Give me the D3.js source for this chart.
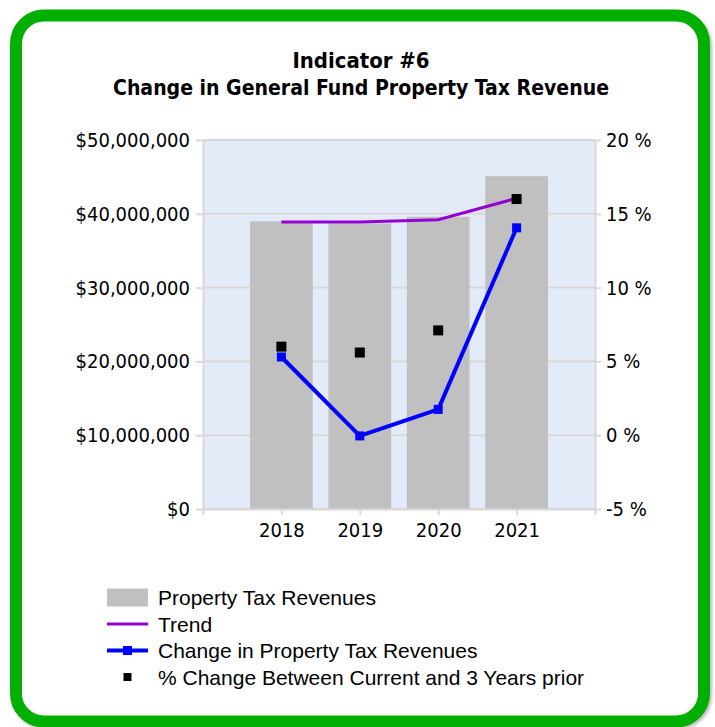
<!DOCTYPE html>
<html>
<head>
<meta charset="utf-8">
<script src="https://cdn.jsdelivr.net/npm/d3@7"></script>
<style>
  html, body { margin: 0; padding: 0; background: #fff; }
  svg { display: block; }
</style>
</head>
<body>
<div class="canvas"></div>
<script>
// Data
const years = ['2018', '2019', '2020', '2021']
const revenues = [38980000, 38700000, 39600000, 45100000]
const trend = [14.45, 14.45, 14.6, 16.05]
const change = [5.3, -0.05, 1.75, 14.05]
const threeYear = [6.0, 5.6, 7.1, 16.0]

const leftTicks = [0, 10000000, 20000000, 30000000, 40000000, 50000000]
const rightTicks = [-5, 0, 5, 10, 15, 20]

const titleLines = ['Indicator #6', 'Change in General Fund Property Tax Revenue']
const legendLabels = ['Property Tax Revenues', 'Trend', 'Change in Property Tax Revenues', '% Change Between Current and 3 Years prior']

// Colours
const green = '#00b000'
const plotBg = '#e4ebf8'
const gridColor = '#d8d8d8'
const barColor = '#c0c0c0'
const purple = '#9400d3'
const blue = '#0000ff'

const tickFont = 'DejaVu Sans Condensed, DejaVu Sans, sans-serif'

const width = 715
const height = 727

const svg = d3.select('.canvas')
  .append('svg')
    .attr('width', width)
    .attr('height', height)

// Soft shadow + green rounded frame
const defs = svg.append('defs')
const shadow = defs.append('filter').attr('id', 'shadow')
  .attr('x', '-5%').attr('y', '-5%').attr('width', '110%').attr('height', '110%')
shadow.append('feGaussianBlur').attr('stdDeviation', 1.5)

svg.append('rect')
  .attr('x', 18).attr('y', 17.5)
  .attr('width', 688).attr('height', 706)
  .attr('rx', 28)
  .attr('fill', 'none')
  .attr('stroke', '#bbb')
  .attr('stroke-width', 12)
  .attr('filter', 'url(#shadow)')

svg.append('rect')
  .attr('x', 16).attr('y', 15.5)
  .attr('width', 688).attr('height', 706)
  .attr('rx', 28)
  .attr('fill', '#fff')
  .attr('stroke', green)
  .attr('stroke-width', 12)

// Title
svg.selectAll('.title')
  .data(titleLines)
  .enter()
  .append('text')
    .attr('class', 'title')
    .attr('x', 361)
    .attr('y', (d, i) => 68 + i * 27)
    .attr('text-anchor', 'middle')
    .attr('font-family', tickFont)
    .attr('font-weight', 'bold')
    .attr('font-size', 21)
    .attr('textLength', (d, i) => i === 0 ? 137 : 496)
    .attr('lengthAdjust', 'spacingAndGlyphs')
    .attr('fill', '#000')
    .text(d => d)

// Plot area
const plot = {left: 203, right: 595, top: 140, bottom: 509}

const x = d3.scalePoint()
  .domain(years)
  .range([plot.left, plot.right])
  .padding(1)

const barWidth = x.step() * 0.8

const yLeft = d3.scaleLinear()
  .domain([0, 50000000])
  .range([plot.bottom, plot.top])

const yRight = d3.scaleLinear()
  .domain([-5, 20])
  .range([plot.bottom, plot.top])

svg.append('rect')
  .attr('x', plot.left)
  .attr('y', plot.top)
  .attr('width', plot.right - plot.left)
  .attr('height', plot.bottom - plot.top)
  .attr('fill', plotBg)

// Grid lines
svg.append('g')
  .selectAll('line')
  .data(leftTicks)
  .enter()
  .append('line')
    .attr('x1', plot.left)
    .attr('x2', plot.right)
    .attr('y1', d => yLeft(d))
    .attr('y2', d => yLeft(d))
    .attr('stroke', gridColor)
    .attr('stroke-width', 2)

// Bars
svg.append('g')
  .selectAll('rect')
  .data(revenues)
  .enter()
  .append('rect')
    .attr('x', (d, i) => x(years[i]) - barWidth / 2)
    .attr('y', d => yLeft(d))
    .attr('width', barWidth)
    .attr('height', d => plot.bottom - yLeft(d))
    .attr('fill', barColor)

// Axes
const styleAxis = g => {
  g.selectAll('.domain').attr('stroke', gridColor).attr('stroke-width', 2)
  g.selectAll('.tick line').attr('stroke', gridColor).attr('stroke-width', 2)
  g.selectAll('.tick text')
    .attr('font-family', tickFont)
    .attr('font-size', 20)
    .attr('fill', '#000')
}

const leftAxis = d3.axisLeft(yLeft)
  .tickValues(leftTicks)
  .tickSize(7)
  .tickSizeOuter(0)
  .tickPadding(6)
  .tickFormat(d => '$' + d3.format(',')(d))

const rightAxis = d3.axisRight(yRight)
  .tickValues(rightTicks)
  .tickSize(6)
  .tickSizeOuter(0)
  .tickPadding(5)
  .tickFormat(d => d + ' %')

const bottomAxis = d3.axisBottom(x)
  .tickSize(6)
  .tickSizeOuter(6)
  .tickPadding(8)

svg.append('g')
  .attr('transform', `translate(${plot.left},0)`)
  .call(leftAxis)
  .call(styleAxis)

svg.append('g')
  .attr('transform', `translate(${plot.right},0)`)
  .call(rightAxis)
  .call(styleAxis)

svg.append('g')
  .attr('transform', `translate(0,${plot.bottom})`)
  .call(bottomAxis)
  .call(styleAxis)

// Trend line
const line = d3.line()
  .x((d, i) => x(years[i]))
  .y(d => yRight(d))

svg.append('path')
  .datum(trend)
  .attr('d', line)
  .attr('fill', 'none')
  .attr('stroke', purple)
  .attr('stroke-width', 3)

// Change line with square markers
svg.append('path')
  .datum(change)
  .attr('d', line)
  .attr('fill', 'none')
  .attr('stroke', blue)
  .attr('stroke-width', 4)
  .attr('stroke-linejoin', 'round')

svg.append('g')
  .selectAll('rect')
  .data(change)
  .enter()
  .append('rect')
    .attr('x', (d, i) => x(years[i]) - 4.5)
    .attr('y', d => yRight(d) - 4.5)
    .attr('width', 9)
    .attr('height', 9)
    .attr('fill', blue)

// 3-year change squares
svg.append('g')
  .selectAll('rect')
  .data(threeYear)
  .enter()
  .append('rect')
    .attr('x', (d, i) => x(years[i]) - 5)
    .attr('y', d => yRight(d) - 5)
    .attr('width', 10)
    .attr('height', 10)
    .attr('fill', '#000')

// Legend
const legend = svg.append('g')
const rowY = i => 597.5 + i * 26.5

legend.append('rect')
  .attr('x', 107).attr('y', rowY(0) - 9)
  .attr('width', 41).attr('height', 18)
  .attr('fill', barColor)

legend.append('line')
  .attr('x1', 107).attr('x2', 148)
  .attr('y1', rowY(1)).attr('y2', rowY(1))
  .attr('stroke', purple).attr('stroke-width', 3)

legend.append('line')
  .attr('x1', 107).attr('x2', 148)
  .attr('y1', rowY(2)).attr('y2', rowY(2))
  .attr('stroke', blue).attr('stroke-width', 4)

legend.append('rect')
  .attr('x', 127.5 - 4.5).attr('y', rowY(2) - 4.5)
  .attr('width', 9).attr('height', 9)
  .attr('fill', blue)

legend.append('rect')
  .attr('x', 127.5 - 4).attr('y', rowY(3) - 4)
  .attr('width', 8).attr('height', 8)
  .attr('fill', '#000')

legend.selectAll('text')
  .data(legendLabels)
  .enter()
  .append('text')
    .attr('x', 158)
    .attr('y', (d, i) => rowY(i) + 7.5)
    .attr('font-family', 'Liberation Sans, Arial, sans-serif')
    .attr('font-size', 21)
    .attr('fill', '#000')
    .text(d => d)
</script>
</body>
</html>
